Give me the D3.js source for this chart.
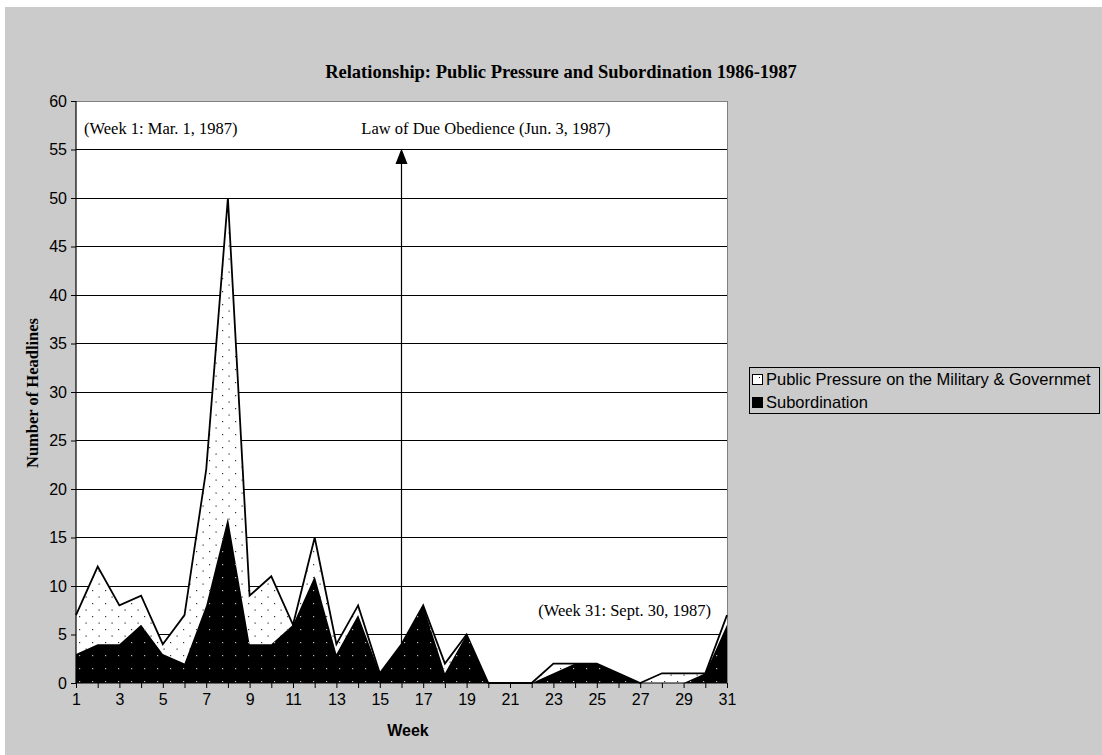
<!DOCTYPE html>
<html><head><meta charset="utf-8">
<script src="https://cdn.jsdelivr.net/npm/d3@7"></script>
<style>
html,body{margin:0;padding:0;background:#fff;}
svg{display:block;}
</style></head>
<body>
<script>
const weeks = d3.range(1, 32);
const publicPressure = [7,12,8,9,4,7,22,50,9,11,6,15,4,8,1,4,8,2,5,0,0,0,2,2,2,1,0,1,1,1,7];
const subordination = [3,4,4,6,3,2,8,17,4,4,6,11,3,7,1,4,8,1,5,0,0,0,1,2,2,1,0,0,0,1,6];
const yTicks = d3.range(0, 61, 5);
const xTickLabels = d3.range(1, 32, 2);
const seriesNames = ["Public Pressure on the Military & Governmet", "Subordination"];
const titleText = "Relationship: Public Pressure and Subordination 1986-1987";

const W = 1102, H = 755;
const svg = d3.select("body").append("svg").attr("width", W).attr("height", H);
const serif = "'Liberation Serif', 'Times New Roman', serif";
const sans = "'Liberation Sans', Arial, sans-serif";

// background
svg.append("rect").attr("x", 5).attr("y", 7).attr("width", W - 5).attr("height", H - 7).attr("fill", "#cbcbcb");

const m = {l: 76, r: 727, t: 101, b: 683};
const x = d3.scaleLinear().domain([1, 31]).range([m.l, m.r]);
const y = d3.scaleLinear().domain([0, 60]).range([m.b, m.t]);

const defs = svg.append("defs");
const p1 = defs.append("pattern").attr("id", "dots").attr("patternUnits", "userSpaceOnUse")
  .attr("width", 13).attr("height", 13).attr("x", m.l + 3).attr("y", m.b - 2);
p1.append("rect").attr("width", 13).attr("height", 13).attr("fill", "#fff");
p1.append("rect").attr("x", 0).attr("y", 0).attr("width", 1.2).attr("height", 1.2).attr("fill", "#333");
p1.append("rect").attr("x", 6.5).attr("y", 6.5).attr("width", 1.2).attr("height", 1.2).attr("fill", "#333");
const p2 = defs.append("pattern").attr("id", "bdots").attr("patternUnits", "userSpaceOnUse")
  .attr("width", 13).attr("height", 13).attr("x", m.l + 3).attr("y", m.b - 2);
p2.append("rect").attr("width", 13).attr("height", 13).attr("fill", "#000");
p2.append("rect").attr("x", 0).attr("y", 0).attr("width", 1.2).attr("height", 1.2).attr("fill", "#bbb");

// plot area
svg.append("rect").attr("x", m.l).attr("y", m.t).attr("width", m.r - m.l).attr("height", m.b - m.t).attr("fill", "#fff");

// gridlines
svg.append("g").selectAll("line").data(yTicks.filter(d => d > 0 && d < 60)).join("line")
  .attr("x1", m.l).attr("x2", m.r).attr("y1", d => y(d)).attr("y2", d => y(d))
  .attr("stroke", "#000").attr("stroke-width", 1).attr("shape-rendering", "crispEdges");
// plot border
svg.append("path").attr("d", `M${m.l},${m.t}H${m.r}V${m.b}`).attr("fill", "none")
  .attr("stroke", "#808080").attr("stroke-width", 1).attr("shape-rendering", "crispEdges");

// annotation arrow (Week 16)
svg.append("line").attr("x1", x(16)).attr("x2", x(16)).attr("y1", y(0)).attr("y2", y(53.5))
  .attr("stroke", "#000").attr("stroke-width", 1.2);
svg.append("path").attr("d", d3.line()([[x(16) - 6, y(53.5)], [x(16) + 6, y(53.5)], [x(16), y(55.1)]]) + "Z")
  .attr("fill", "#000");

const ppData = weeks.map((w, i) => [w, publicPressure[i]]);
const subData = weeks.map((w, i) => [w, subordination[i]]);
const area = d3.area().x(d => x(d[0])).y0(y(0)).y1(d => y(d[1]));
const line = d3.line().x(d => x(d[0])).y(d => y(d[1]));

svg.append("path").datum(ppData).attr("d", area).attr("fill", "url(#dots)");
svg.append("path").datum(ppData).attr("d", line).attr("fill", "none").attr("stroke", "#000").attr("stroke-width", 1.8).attr("stroke-linejoin", "miter");
svg.append("path").datum(subData).attr("d", area).attr("fill", "url(#bdots)");

// axes
const yAxis = d3.axisLeft(y).tickValues(yTicks).tickSize(5).tickPadding(4);
const gy = svg.append("g").attr("transform", `translate(${m.l},0)`).call(yAxis);
const xAxis = d3.axisBottom(x).tickValues(weeks).tickSize(5).tickPadding(6)
  .tickFormat(d => (xTickLabels.includes(d) ? d : ""));
const gx = svg.append("g").attr("transform", `translate(0,${m.b})`).call(xAxis);
[gx, gy].forEach(g => {
  g.selectAll("text").attr("font-family", sans).attr("font-size", 16).attr("fill", "#000");
  g.selectAll("line").attr("stroke", "#000");
  g.select(".domain").attr("stroke", "#000").attr("stroke-width", 1.2);
});
gx.select(".domain").attr("d", `M${m.l},0H${m.r}`);
gy.select(".domain").attr("d", `M0,${m.b}V${m.t}`);

// texts
svg.append("text").attr("x", 561).attr("y", 78).attr("text-anchor", "middle")
  .attr("font-family", serif).attr("font-weight", "bold").attr("font-size", 18.5)
  .text(titleText);
svg.append("text").attr("transform", `translate(38,393) rotate(-90)`).attr("text-anchor", "middle")
  .attr("font-family", serif).attr("font-weight", "bold").attr("font-size", 16.5)
  .text("Number of Headlines");
svg.append("text").attr("x", 408).attr("y", 736).attr("text-anchor", "middle")
  .attr("font-family", sans).attr("font-weight", "bold").attr("font-size", 16)
  .text("Week");
svg.append("text").attr("x", 84).attr("y", 134).attr("font-family", serif).attr("font-size", 16.5).text("(Week 1: Mar. 1, 1987)");
svg.append("text").attr("x", 486).attr("y", 134).attr("text-anchor", "middle").attr("font-family", serif).attr("font-size", 16.5).text("Law of Due Obedience (Jun. 3, 1987)");
svg.append("text").attr("x", 711).attr("y", 616).attr("text-anchor", "end").attr("font-family", serif).attr("font-size", 16.5).text("(Week 31: Sept. 30, 1987)");

// legend
const lg = svg.append("g");
lg.append("rect").attr("x", 749.5).attr("y", 367.5).attr("width", 350).attr("height", 46)
  .attr("fill", "#cbcbcb").attr("stroke", "#000").attr("stroke-width", 1);
seriesNames.forEach((n, i) => {
  const yy = 374 + i * 23;
  lg.append("rect").attr("x", 752.5).attr("y", yy + 0.5).attr("width", 10).attr("height", 10)
    .attr("fill", i === 0 ? "#fff" : "#000").attr("stroke", "#000").attr("stroke-width", 1);
  if (i === 0) lg.append("rect").attr("x", 759).attr("y", yy + 3).attr("width", 1).attr("height", 1).attr("fill", "#000");
  lg.append("text").attr("x", 766).attr("y", yy + 11).attr("font-family", sans)
    .attr("font-size", 16.5).text(n);
});
</script>
</body></html>
